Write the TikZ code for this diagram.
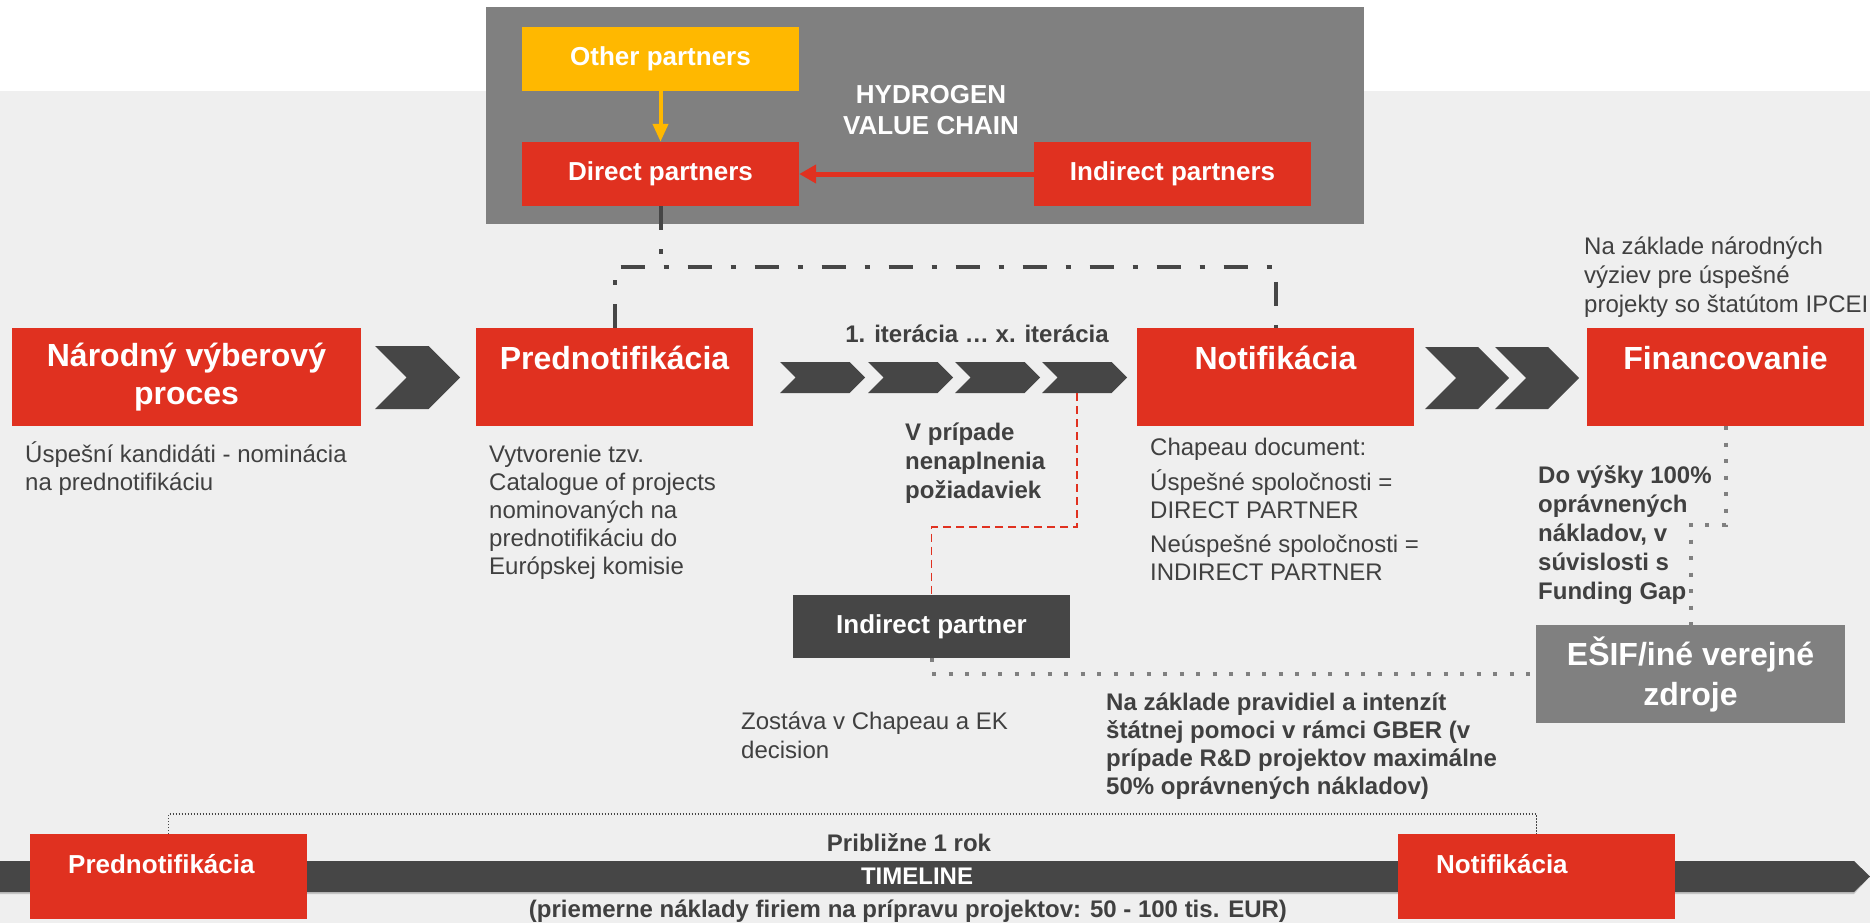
\documentclass[tikz,border=0pt]{standalone}
\usepackage{fontspec}
\setmainfont{Liberation Sans}
\usetikzlibrary{positioning, calc, arrows.meta}
\definecolor{ipred}{HTML}{E03120}
\definecolor{ipdark}{HTML}{464646}
\definecolor{ipgrey}{HTML}{808080}
\definecolor{ipyellow}{HTML}{FFB800}
\definecolor{ipbg}{HTML}{EFEFEF}
\definecolor{iptext}{HTML}{404040}
\definecolor{ipshade}{HTML}{C4C4C4}
\newcommand{\chevronat}[4]{\fill[ipdark] (#1,#2) -- ({#1+#3-#4/2},#2) -- ({#1+#3},{#2+#4/2}) -- ({#1+#3-#4/2},{#2+#4}) -- (#1,{#2+#4}) -- ({#1+#4/2},{#2+#4/2}) -- cycle;}

\begin{document}
\begin{tikzpicture}[x=1pt, y=-1pt,
	mainbox/.style={fill=ipred, text=white, font=\bfseries\fontsize{32}{38}\selectfont, minimum width=277pt, minimum height=98pt, align=center, inner sep=0pt},
	partnerbox/.style={fill=ipred, text=white, font=\bfseries\fontsize{26}{30}\selectfont, minimum width=277pt, minimum height=64pt, inner sep=0pt},
	tlbox/.style={fill=ipred, text=white, font=\bfseries\fontsize{26}{26}\selectfont, text width=201pt, inner xsep=38pt, inner ysep=0pt, minimum height=85pt, align=left},
	body/.style={text=iptext, font=\fontsize{24}{28}\selectfont, align=left, inner sep=0pt, anchor=base west},
	bodybold/.style={body, font=\bfseries\fontsize{24}{29}\selectfont},
	dashdot/.style={ipdark, line width=4pt, dash pattern=on 24pt off 19pt on 5pt off 19pt},
	dotline/.style={ipgrey, line width=4pt, dash pattern=on 4pt off 12.5pt},
	reddash/.style={ipred, line width=1.6pt, dash pattern=on 8pt off 5pt}]
	\useasboundingbox (0,0) rectangle (1870,923);
	\fill[white] (0,0) rectangle (1870,91);
	\fill[ipbg] (0,91) rectangle (1870,923);

	\node at (486,7) [anchor=north west, fill=ipgrey, minimum width=878pt, minimum height=217pt, inner sep=0pt] (hydro) {};
	\node at (931,110) [text=white, font=\bfseries\fontsize{26}{31}\selectfont, align=center] (chain) {HYDROGEN\\VALUE CHAIN};
	\node at (660.5,59) [partnerbox, fill=ipyellow] (other) {Other partners};
	\node at (660.5,174) [partnerbox] (direct) {Direct partners};
	\node at (1172.5,174) [partnerbox] (indirecttop) {Indirect partners};
	\draw[ipyellow, line width=4pt, -{Triangle[length=18pt,width=15pt]}] (other) -- (direct);
	\draw[ipred, line width=5pt, -{Triangle[length=17pt,width=18pt]}] (indirecttop) -- (direct);

	\node at (186.5,377) [mainbox, minimum width=349pt] (narodny) {Národný výberový\\proces};
	\node at (614.5,377) [mainbox] (prednot) {Prednotifikácia\\~};
	\node at (1275.5,377) [mainbox] (notif) {Notifikácia\\~};
	\node at (1725.5,377) [mainbox] (financ) {Financovanie\\~};
	\draw[dashdot] (direct.south) -- ++(0,61);
	\draw[dashdot] (prednot.north) -- ++(0,-61) -| (notif.north);

	\chevronat{375}{346}{85}{63}
	\foreach \cx in {780,868,955,1042} {\chevronat{\cx}{362}{85}{31}}
	\chevronat{1425}{347}{84}{62}
	\chevronat{1495}{347}{84}{62}
	\coordinate (lastiter) at (1077,393);
	\node at (977,342) [bodybold, anchor=base] (iter) {1. iterácia … x. iterácia};

	\node at (25,490) [body] (narodnytext) {Úspešní kandidáti - nominácia\\na prednotifikáciu};
	\node at (489,574) [body] (prednottext) {Vytvorenie tzv.\\Catalogue of projects\\nominovaných na\\prednotifikáciu do\\Európskej komisie};
	\node at (905,498) [bodybold] (failtext) {V prípade\\nenaplnenia\\požiadaviek};
	\node at (1150,580) [body] (chapeau) {Chapeau document:\\[7pt]Úspešné spoločnosti =\\DIRECT PARTNER\\[6pt]Neúspešné spoločnosti =\\INDIRECT PARTNER};
	\node at (1584,312) [body, font=\fontsize{24}{29}\selectfont] (vyzvy) {Na základe národných\\výziev pre úspešné\\projekty so štatútom IPCEI};
	\node at (1538,599) [bodybold] (fundgap) {Do výšky 100\%\\oprávnených\\nákladov, v\\súvislosti s\\Funding Gap};

	\node at (931.5,626.5) [fill=ipdark, text=white, font=\bfseries\fontsize{26}{30}\selectfont, minimum width=277pt, minimum height=63pt, inner sep=0pt] (indirect) {Indirect partner};
	\node at (1690.5,674) [fill=ipgrey, text=white, font=\bfseries\fontsize{32}{40}\selectfont, minimum width=309pt, minimum height=98pt, align=center, inner sep=0pt] (esif) {EŠIF/iné verejné\\zdroje};
	\draw[reddash] (lastiter) -- ++(0,134) -| (indirect.north);
	\draw[dotline] (indirect.south) |- (esif.west);
	\draw[dotline] (financ.south) -- ++(0,99) -| (esif.north);
	\node at (741,758) [body, font=\fontsize{24}{29}\selectfont] (zostava) {Zostáva v Chapeau a EK\\decision};
	\node at (1106,794) [bodybold, font=\bfseries\fontsize{24}{28}\selectfont] (gber) {Na základe pravidiel a intenzít\\štátnej pomoci v rámci GBER (v\\prípade R\&D projektov maximálne\\50\% oprávnených nákladov)};

	\fill[ipshade] (0,863) -- (1854,863) -- (1868,878.5) -- (1854,894) -- (0,894) -- cycle;
	\fill[ipdark] (0,861) -- (1854,861) -- (1870,876.5) -- (1854,892) -- (0,892) -- cycle;
	\node at (30,834) [tlbox, anchor=north west] (tlpred) {Prednotifikácia\\~};
	\node at (1398,834) [tlbox, anchor=north west] (tlnotif) {Notifikácia\\~};
	\draw[ipdark, line width=1.5pt, dash pattern=on 1.5pt off 1.5pt] (tlpred.north) -- ++(0,-20) -| (tlnotif.north);
	\node at (909,851) [bodybold, anchor=base] (year) {Približne 1 rok};
	\node at (917,876.5) [text=white, font=\bfseries\fontsize{24}{28}\selectfont, inner sep=0pt] (timeline) {TIMELINE};
	\node at (908,917) [bodybold, anchor=base] (costs) {(priemerne náklady firiem na prípravu projektov: 50 - 100 tis. EUR)};
\end{tikzpicture}
\end{document}
